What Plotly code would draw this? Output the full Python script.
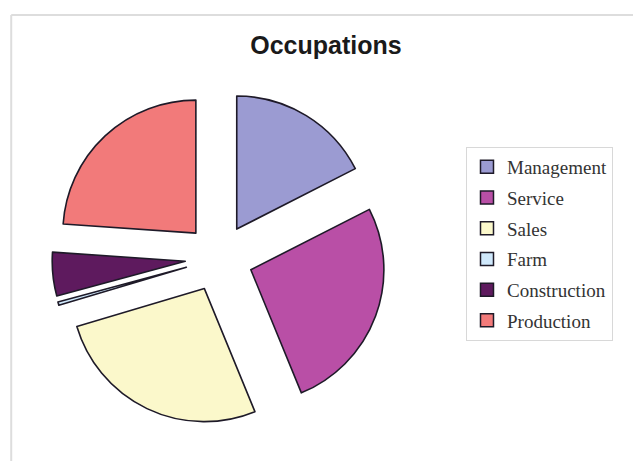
import plotly.graph_objects as go

categories = ["Management", "Service", "Sales", "Farm", "Construction", "Production"]
values = [17.5, 26.3, 26.6, 0.4, 5.3, 23.9]
colors = ["#9b9bd2", "#b94fa6", "#fbf8cb", "#cfe8fb", "#5e1a5e", "#f27a7a"]
edge = "#1e1a28"

fig = go.Figure()
fig.add_trace(go.Pie(
    labels=categories,
    values=values,
    sort=False,
    direction="clockwise",
    rotation=0,
    pull=[0.255] * len(values),
    textinfo="none",
    hoverinfo="label+percent",
    showlegend=False,
    marker=dict(colors=colors, line=dict(color=edge, width=1.6)),
    domain=dict(x=[0.0687, 0.5897], y=[0.0955, 0.82]),
))

# legend entries (one per category)
for name, col in zip(categories, colors):
    fig.add_trace(go.Scatter(
        x=[None], y=[None], mode="markers", name=name, legendgroup=name,
        marker=dict(symbol="square", size=13, color=col, line=dict(color=edge, width=1.5)),
        hoverinfo="skip",
    ))

fig.update_layout(
    width=641, height=461,
    margin=dict(l=0, r=0, t=0, b=0),
    paper_bgcolor="white",
    plot_bgcolor="white",
    xaxis=dict(visible=False),
    yaxis=dict(visible=False),
    title=dict(text="<b>Occupations</b>", x=0.496, xanchor="center", y=0.92, yanchor="middle",
               font=dict(family="Liberation Sans, Arial", size=25, color="#1a1a1a")),
    legend=dict(x=0.7145, y=1 - 139 / 461, xanchor="left", yanchor="top",
                bordercolor="#d8d8d8", borderwidth=1, bgcolor="white",
                traceorder="grouped", tracegroupgap=3, itemclick=False, itemdoubleclick=False,
                font=dict(family="Liberation Serif, Times New Roman", size=19, color="#333333")),
    shapes=[
        dict(type="line", xref="paper", yref="paper", x0=0.005, x1=1, y0=1 - 7 / 461, y1=1 - 7 / 461,
             line=dict(color="#dddddd", width=2)),
        dict(type="line", xref="paper", yref="paper", x0=0.005, x1=0.005, y0=0, y1=1 - 7 / 461,
             line=dict(color="#dddddd", width=2)),
    ],
)

fig.write_html("out.html")
